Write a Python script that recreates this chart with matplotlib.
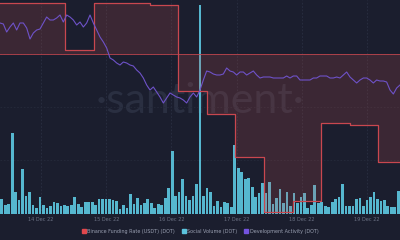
import numpy as np
import matplotlib
matplotlib.use("Agg")
import matplotlib.pyplot as plt

# hours relative to 14 Dec 22 00:00
X_START, X_END = -15.1, 132.1
tick_pos = [0, 24, 48, 72, 96, 120]
tick_labels = ['14 Dec 22', '15 Dec 22', '16 Dec 22', '17 Dec 22', '18 Dec 22', '19 Dec 22']

# Binance funding rate (%), step changes
funding_times = [X_START, 8.8, 19.5, 40.1, 50.4, 61.1, 71.4, 82.1, 92.7, 103.0, 113.7, 124.0, X_END]
funding_rate = [0.0100, 0.0008, 0.0100, 0.0096, -0.0073, -0.0118, -0.0202, -0.0310,
                -0.0288, -0.0135, -0.0139, -0.0212, -0.0212]

social_volume = [15, 9, 10, 81, 22, 14, 45, 18, 22, 9, 6, 17, 9, 6, 8, 12, 11, 8, 9, 8,
                 9, 17, 10, 7, 12, 12, 12, 9, 15, 15, 15, 15, 14, 13, 5, 9, 6, 20, 10, 16,
                 9, 11, 15, 11, 6, 10, 9, 16, 26, 63, 18, 22, 35, 18, 14, 18, 30,
                 209, 18, 26, 22, 8, 13, 7, 12, 11, 7, 69, 46, 42, 35, 36, 27, 17, 21, 31, 21,
                 32, 10, 16, 25, 11, 22, 8, 21, 11, 17, 21, 6, 9, 29, 11, 12, 8, 7, 12, 15,
                 17, 30, 8, 8, 8, 15, 16, 8, 14, 17, 22, 15, 13, 14, 8, 7, 7, 23]

dev_activity = [191, 190, 182, 187, 191, 184, 191, 191, 186, 175, 181, 184, 185, 191, 197, 194,
                194, 196, 199, 192, 199, 197, 194, 189, 192, 187, 191, 199, 191, 184, 177, 172,
                166, 156, 154, 151, 149, 152, 151, 149, 148, 144, 141, 136, 129, 124, 127, 122,
                117, 111, 116, 121, 119, 117, 116, 114, 111, 117, 121, 117, 124,
                134, 143, 142, 140, 139, 139, 140, 146, 143, 142, 139, 142, 142, 139, 141, 143,
                139, 136, 137, 137, 137, 136, 136, 136, 136, 138, 136, 138, 138, 134, 134, 134,
                134, 136, 136, 138, 138, 138, 136, 136, 137, 136, 139, 142, 137, 134, 131, 134,
                136, 136, 134, 131, 134, 133, 133, 132, 124, 120, 126, 129]

BG = '#1b1e2e'
RED = '#c9474f'
CYAN = '#56b7cf'
PURPLE = '#6e52c8'

fig = plt.figure(figsize=(4, 2.4), dpi=100, facecolor=BG)
ax = fig.add_axes([0, 26 / 240, 1, 214 / 240])
ax.set_facecolor(BG)

# social volume bars
n = len(social_volume)
step = (X_END - X_START) / n
bar_x = X_START + (np.arange(n) + 0.5) * step
ax.bar(bar_x, social_volume, width=step * 0.78, color=CYAN, zorder=2)
ax.set_ylim(0, 214)
ax.set_xlim(X_START, X_END)

for t in tick_pos:
    ax.axvline(t, color='#2a2f42', lw=0.6, ls=(0, (2, 2)), zorder=1)
for yy in [54, 107, 160]:
    ax.axhline(yy, color='#252a3b', lw=0.6, ls=(0, (2, 2)), zorder=1)

ax.set_xticks(tick_pos)
ax.set_xticklabels(tick_labels, fontsize=3.6, color='#6c7285')
ax.tick_params(axis='x', length=0, pad=2)
ax.set_yticks([])
for s in ax.spines.values():
    s.set_visible(False)

ax.text(0.5, 0.53, '·santiment·', transform=ax.transAxes, ha='center', va='center',
        fontsize=31, color='#2a2f41', family='Lato', zorder=0)

# funding rate
ax2 = ax.twinx()
ax2.set_ylim(-0.03137, 0.01059)
ax2.fill_between(funding_times, funding_rate, 0, step='post', color='#c0504d', alpha=0.2, lw=0)
ax2.step(funding_times, funding_rate, where='post', color=RED, lw=0.9)
ax2.axhline(0, color=RED, lw=0.7, alpha=0.8)
ax2.set_yticks([])
for s in ax2.spines.values():
    s.set_visible(False)

# development activity
ax3 = ax.twinx()
ax3.set_ylim(0, 214)
dev_x = np.linspace(X_START, X_END, len(dev_activity))
ax3.plot(dev_x, dev_activity, color=PURPLE, lw=0.8)
ax3.set_yticks([])
for s in ax3.spines.values():
    s.set_visible(False)
ax.set_xlim(X_START, X_END)

# legend
items = [('Binance Funding Rate (USDT) (DOT)', '#e0474c'),
         ('Social Volume (DOT)', '#5cc3dd'),
         ('Development Activity (DOT)', '#7453e0')]
handles = [plt.Line2D([], [], marker='s', ls='', color=c, markersize=2.5) for _, c in items]
fig.legend(handles, [t for t, _ in items], loc='center', bbox_to_anchor=(0.5, 9 / 240),
           ncol=3, frameon=False, fontsize=3.55, labelcolor='#9aa0b2',
           handletextpad=0.2, columnspacing=1.3, handlelength=1.0)

fig.savefig('out.png', dpi=100, facecolor=BG)
